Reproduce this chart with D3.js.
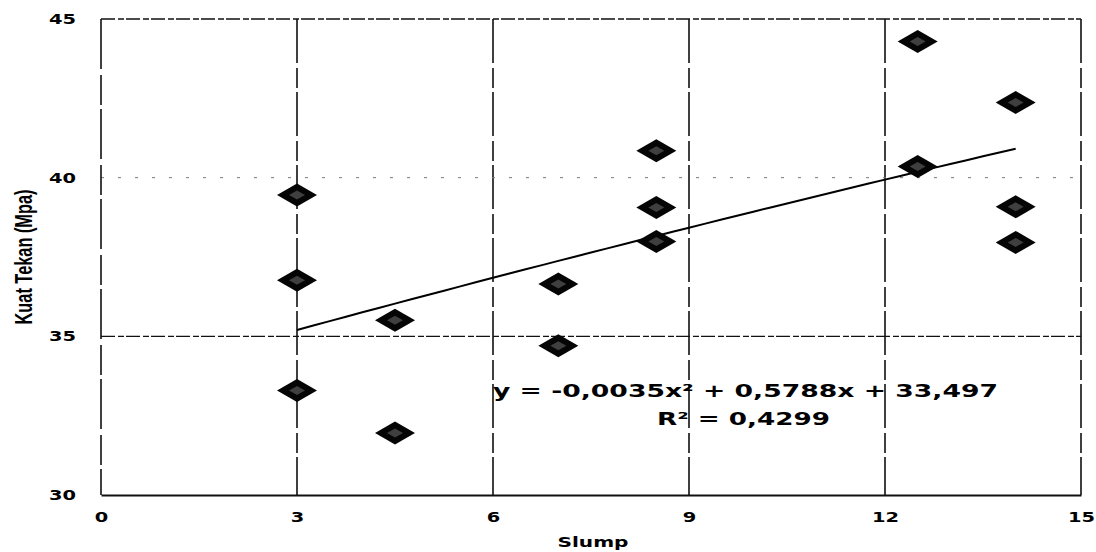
<!DOCTYPE html>
<html>
<head>
<meta charset="utf-8">
<script src="https://cdn.jsdelivr.net/npm/d3@7"></script>
<style>
  html, body { margin: 0; padding: 0; background: #fff; }
  svg { display: block; }
</style>
</head>
<body>
<svg id="chart"></svg>
<script>
// data
const slump = [3, 3, 3, 4.5, 4.5, 7, 7, 8.5, 8.5, 8.5, 12.5, 12.5, 14, 14, 14];
const kuatTekan = [39.45, 36.77, 33.29, 35.51, 31.95, 36.65, 34.7, 40.85, 39.06, 37.99, 44.29, 40.35, 42.37, 39.08, 37.96];
const xTicks = [0, 3, 6, 9, 12, 15];
const yTicks = [30, 35, 40, 45];
// polynomial trendline as printed on the chart (a, b, c) and its x span
const trendCoef = [-0.0035, 0.5788, 33.497];
const trendSpan = [3, 14];
const equationLabel = "y = -0,0035x\u00B2 + 0,5788x + 33,497";
const r2Label = "R\u00B2 = 0,4299";

const W = 1096, H = 552;
const margin = { top: 19, right: 15, bottom: 57, left: 101 };

const svg = d3.select("#chart").attr("width", W).attr("height", H);

const x = d3.scaleLinear().domain([0, 15]).range([margin.left, W - margin.right]);
const y = d3.scaleLinear().domain([30, 45]).range([H - margin.bottom, margin.top]);

// gridlines (scanned look: broken dark lines)
svg.append("g")
  .selectAll("line")
  .data(xTicks.filter(d => d > 0))
  .enter()
  .append("line")
  .attr("x1", d => x(d)).attr("x2", d => x(d))
  .attr("y1", y(45)).attr("y2", y(30))
  .attr("stroke", "#111")
  .attr("stroke-width", 1.6)
  .attr("stroke-dasharray", "44,5,20,4");

svg.append("g")
  .selectAll("line")
  .data(yTicks.filter(d => d > 30))
  .enter()
  .append("line")
  .attr("x1", x(0)).attr("x2", x(15))
  .attr("y1", d => y(d)).attr("y2", d => y(d))
  .attr("stroke", d => d === 40 ? "#777" : "#111")
  .attr("stroke-width", d => d === 40 ? 1 : 1.4)
  .attr("stroke-dasharray", d => d === 40 ? "3,14" : "14,3,6,2");

// left border
svg.append("line")
  .attr("x1", x(0)).attr("x2", x(0))
  .attr("y1", y(45)).attr("y2", y(30))
  .attr("stroke", "#111")
  .attr("stroke-width", 1.6)
  .attr("stroke-dasharray", "50,6,30,4");

// x axis
const xAxis = svg.append("g")
  .attr("transform", `translate(0,${y(30)})`)
  .call(d3.axisBottom(x).tickValues(xTicks).tickSize(0).tickFormat(d3.format("d")));
xAxis.select(".domain").attr("stroke", "#111").attr("stroke-width", 1.8);
xAxis.selectAll("text")
  .attr("y", 27)
  .attr("dy", null)
  .style("font-family", "DejaVu Sans, Verdana, sans-serif")
  .style("font-weight", "bold")
  .style("font-size", "14.5px")
  .attr("fill", "#000")
  .attr("textLength", d => String(d).length * 13.5)
  .attr("lengthAdjust", "spacingAndGlyphs");

// y axis
const yAxis = svg.append("g")
  .attr("transform", `translate(${x(0)},0)`)
  .call(d3.axisLeft(y).tickValues(yTicks).tickSize(0).tickPadding(25));
yAxis.select(".domain").remove();
yAxis.selectAll("text")
  .style("font-family", "DejaVu Sans, Verdana, sans-serif")
  .style("font-weight", "bold")
  .style("font-size", "14.5px")
  .attr("fill", "#000")
  .attr("textLength", 27)
  .attr("lengthAdjust", "spacingAndGlyphs");

// axis titles
svg.append("text")
  .attr("x", 593)
  .attr("y", 547)
  .attr("text-anchor", "middle")
  .style("font-family", "DejaVu Sans, Verdana, sans-serif")
  .style("font-weight", "bold")
  .style("font-size", "14px")
  .attr("textLength", 71)
  .attr("lengthAdjust", "spacingAndGlyphs")
  .text("Slump");

svg.append("text")
  .attr("transform", "translate(32,257) rotate(-90)")
  .attr("text-anchor", "middle")
  .style("font-family", "Liberation Sans Narrow, Liberation Sans, Arial, sans-serif")
  .style("font-weight", "bold")
  .style("font-size", "23px")
  .attr("textLength", 135)
  .attr("lengthAdjust", "spacingAndGlyphs")
  .text("Kuat Tekan (Mpa)");

// trendline from the printed equation
const trendX = d3.range(trendSpan[0], trendSpan[1] + 0.001, 0.25);
const line = d3.line()
  .x(d => x(d))
  .y(d => y(trendCoef[0] * d * d + trendCoef[1] * d + trendCoef[2]));
svg.append("path")
  .datum(trendX)
  .attr("d", line)
  .attr("fill", "none")
  .attr("stroke", "#000")
  .attr("stroke-width", 2);

// diamond markers
const points = slump.map((s, i) => ({ s, k: kuatTekan[i] }));
const marks = svg.append("g")
  .selectAll("g")
  .data(points)
  .enter()
  .append("g")
  .attr("transform", d => `translate(${x(d.s)},${y(d.k)})`);
marks.append("path")
  .attr("d", "M-20,0L0,-11.5L20,0L0,11.5Z")
  .attr("fill", "#050505");
marks.append("path")
  .attr("d", "M-8,0L0,-4.5L8,0L0,4.5Z")
  .attr("fill", "#666")
  .attr("opacity", 0.6);

// regression labels
svg.append("text")
  .attr("x", 493)
  .attr("y", 397)
  .style("font-family", "DejaVu Sans, Verdana, sans-serif")
  .style("font-weight", "bold")
  .style("font-size", "17.5px")
  .attr("textLength", 505)
  .attr("lengthAdjust", "spacingAndGlyphs")
  .text(equationLabel);

svg.append("text")
  .attr("x", 657)
  .attr("y", 425)
  .style("font-family", "DejaVu Sans, Verdana, sans-serif")
  .style("font-weight", "bold")
  .style("font-size", "17.5px")
  .attr("textLength", 173)
  .attr("lengthAdjust", "spacingAndGlyphs")
  .text(r2Label);
</script>
</body>
</html>
